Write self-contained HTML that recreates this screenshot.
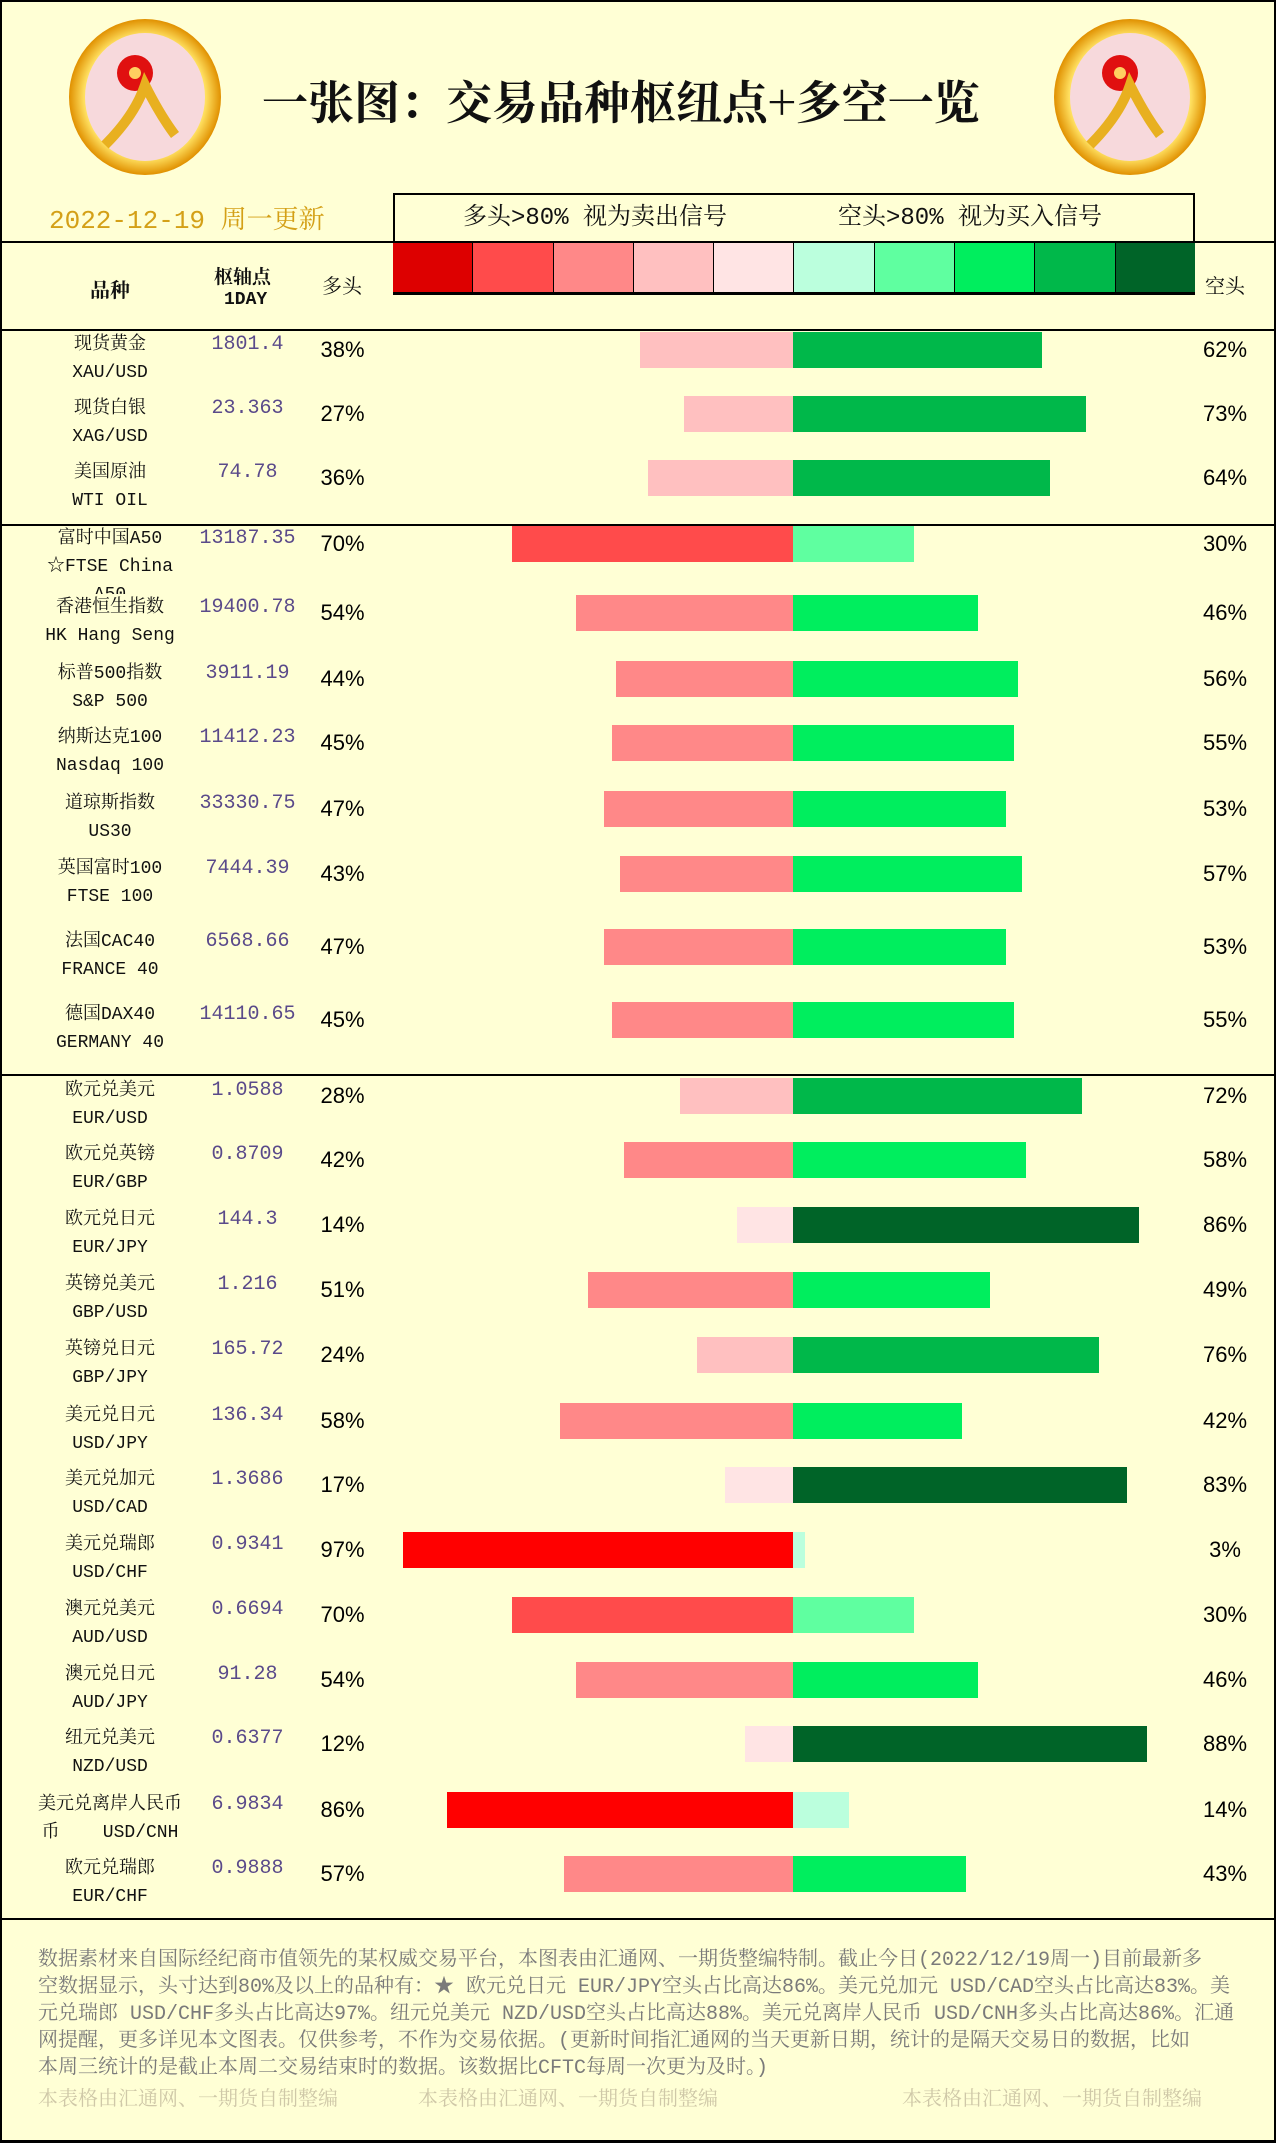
<!DOCTYPE html>
<html><head><meta charset="utf-8"><style>
*{margin:0;padding:0;box-sizing:border-box}
body{width:1276px;height:2143px;background:#ffffd5;position:relative;overflow:hidden;font-family:"Liberation Serif","Noto Serif CJK SC",serif}
.a{position:absolute}
.hl{position:absolute;left:0;width:1276px;height:2px;background:#000}
.r{position:absolute;left:0;width:1276px;height:0}
.n{position:absolute;left:10px;width:200px;text-align:center;top:-16px;font-size:18px;line-height:22px;color:#111;white-space:nowrap;font-family:"Liberation Mono","Noto Serif CJK SC",monospace}
.c{position:absolute;left:10px;width:200px;text-align:center;top:12px;font-size:18px;line-height:22px;color:#111;white-space:nowrap;font-family:"Liberation Mono","Noto Serif CJK SC",monospace}
.p{position:absolute;left:190px;width:115px;text-align:center;top:-16px;font-size:20px;line-height:22px;color:#5a4a8a;font-family:"Liberation Mono",monospace}
.l{position:absolute;left:315px;width:55px;text-align:center;top:-12px;font-size:22px;line-height:24px;font-family:"Liberation Sans",sans-serif;color:#000}
.s{position:absolute;left:1195px;width:60px;text-align:center;top:-12px;font-size:22px;line-height:24px;font-family:"Liberation Sans",sans-serif;color:#000}
.rb{position:absolute;right:483px;top:-18px;height:36px}
.gb{position:absolute;left:793px;top:-18px;height:36px}
.c1{background:#ff0000}.c2{background:#ff4b4b}.c3{background:#ff8888}.c4{background:#ffc0c0}.c5{background:#ffe4e4}
.g5{background:#bbffdd}.g4{background:#5fffa0}.g3{background:#00ee5e}.g2{background:#00b84a}.g1{background:#006428}
.ft{position:absolute;left:38px;font-size:20px;line-height:27px;color:#7a7a7a;white-space:nowrap;font-family:"Liberation Mono","Noto Serif CJK SC",monospace}
</style></head><body>
<div class="a" style="left:0;top:0;width:1276px;height:2143px;border:2px solid #000;border-bottom-width:3px"></div>

<svg class="a" style="left:65px;top:15px" width="160" height="165" viewBox="0 0 160 165">
<defs><radialGradient id="gd" cx="50%" cy="50%" r="50%"><stop offset="80%" stop-color="#ffe060"/><stop offset="100%" stop-color="#e09000"/></radialGradient></defs>
<ellipse cx="80" cy="82" rx="76" ry="78" fill="url(#gd)"/>
<ellipse cx="80" cy="82" rx="60" ry="64" fill="#f7d9dc"/>
<circle cx="70" cy="58" r="18" fill="#e01010"/><circle cx="70" cy="58" r="6" fill="#ffd060"/>
<path d="M40 130 Q70 100 80 70 Q95 100 110 120" stroke="#e8b020" stroke-width="10" fill="none"/>
</svg>
<svg class="a" style="left:1050px;top:15px" width="160" height="165" viewBox="0 0 160 165">
<ellipse cx="80" cy="82" rx="76" ry="78" fill="url(#gd)"/>
<ellipse cx="80" cy="82" rx="60" ry="64" fill="#f7d9dc"/>
<circle cx="70" cy="58" r="18" fill="#e01010"/><circle cx="70" cy="58" r="6" fill="#ffd060"/>
<path d="M40 130 Q70 100 80 70 Q95 100 110 120" stroke="#e8b020" stroke-width="10" fill="none"/>
</svg>

<div class="a" style="left:262px;top:70px;font-size:46px;line-height:60px;font-weight:bold;font-family:'Noto Serif CJK SC',serif;color:#111;white-space:nowrap">一张图：交易品种枢纽点+多空一览</div>

<div class="a" style="left:49px;top:206px;font-size:26px;line-height:30px;color:#d4a017;white-space:nowrap;font-family:'Liberation Mono','Noto Serif CJK SC',monospace">2022-12-19 周一更新</div>

<div class="a" style="left:393px;top:193px;width:802px;height:52px;border:2px solid #000;border-bottom:none"></div>
<div class="a" style="left:463px;top:204px;font-size:24px;line-height:30px;color:#111;white-space:nowrap;font-family:'Liberation Mono','Noto Serif CJK SC',monospace">多头&gt;80% 视为卖出信号</div>
<div class="a" style="left:838px;top:204px;font-size:24px;line-height:30px;color:#111;white-space:nowrap;font-family:'Liberation Mono','Noto Serif CJK SC',monospace">空头&gt;80% 视为买入信号</div>

<div class="hl" style="top:241px"></div>
<div class="a" style="left:393px;top:243px;width:802px;height:52px;display:flex;border-bottom:3px solid #000">
<div style="flex:1;background:#dd0000;border-right:1px solid #000"></div>
<div style="flex:1;background:#ff4b4b;border-right:1px solid #000"></div>
<div style="flex:1;background:#ff8888;border-right:1px solid #000"></div>
<div style="flex:1;background:#ffc0c0;border-right:1px solid #000"></div>
<div style="flex:1;background:#ffe4e4;border-right:1px solid #000"></div>
<div style="flex:1;background:#bbffdd;border-right:1px solid #000"></div>
<div style="flex:1;background:#5fffa0;border-right:1px solid #000"></div>
<div style="flex:1;background:#00ee5e;border-right:1px solid #000"></div>
<div style="flex:1;background:#00b84a;border-right:1px solid #000"></div>
<div style="flex:1;background:#006428"></div>
</div>
<div class="a" style="left:90px;top:274px;font-size:20px;font-weight:bold;color:#111">品种</div>
<div class="a" style="left:214px;top:262px;font-size:19px;font-weight:bold;color:#111">枢轴点</div>
<div class="a" style="left:224px;top:290px;font-size:18px;font-weight:bold;color:#111;font-family:'Liberation Mono',monospace">1DAY</div>
<div class="a" style="left:322px;top:270px;font-size:20px;color:#111">多头</div>
<div class="a" style="left:1205px;top:270px;font-size:20px;color:#111">空头</div>
<div class="hl" style="top:329px"></div>
<div class="hl" style="top:524px"></div>
<div class="hl" style="top:1074px"></div>
<div class="hl" style="top:1918px"></div>

<div class="r" style="top:350px"><div class="n">现货黄金</div><div class="c">XAU/USD</div><div class="p">1801.4</div><div class="l">38%</div><div class="rb c4" style="width:153px"></div><div class="gb g2" style="width:249px"></div><div class="s">62%</div></div>
<div class="r" style="top:414px"><div class="n">现货白银</div><div class="c">XAG/USD</div><div class="p">23.363</div><div class="l">27%</div><div class="rb c4" style="width:109px"></div><div class="gb g2" style="width:293px"></div><div class="s">73%</div></div>
<div class="r" style="top:478px"><div class="n">美国原油</div><div class="c">WTI OIL</div><div class="p">74.78</div><div class="l">36%</div><div class="rb c4" style="width:145px"></div><div class="gb g2" style="width:257px"></div><div class="s">64%</div></div>

<div class="r" style="top:544px"><div class="n">富时中国A50</div><div class="c">☆FTSE China</div><div class="c" style="top:40px;height:10px;overflow:hidden">A50</div><div class="p">13187.35</div><div class="l">70%</div><div class="rb c2" style="width:281px"></div><div class="gb g4" style="width:121px"></div><div class="s">30%</div></div>
<div class="r" style="top:613px"><div class="n">香港恒生指数</div><div class="c">HK Hang Seng</div><div class="p">19400.78</div><div class="l">54%</div><div class="rb c3" style="width:217px"></div><div class="gb g3" style="width:185px"></div><div class="s">46%</div></div>
<div class="r" style="top:679px"><div class="n">标普500指数</div><div class="c">S&amp;P 500</div><div class="p">3911.19</div><div class="l">44%</div><div class="rb c3" style="width:177px"></div><div class="gb g3" style="width:225px"></div><div class="s">56%</div></div>
<div class="r" style="top:743px"><div class="n">纳斯达克100</div><div class="c">Nasdaq 100</div><div class="p">11412.23</div><div class="l">45%</div><div class="rb c3" style="width:181px"></div><div class="gb g3" style="width:221px"></div><div class="s">55%</div></div>
<div class="r" style="top:809px"><div class="n">道琼斯指数</div><div class="c">US30</div><div class="p">33330.75</div><div class="l">47%</div><div class="rb c3" style="width:189px"></div><div class="gb g3" style="width:213px"></div><div class="s">53%</div></div>
<div class="r" style="top:874px"><div class="n">英国富时100</div><div class="c">FTSE 100</div><div class="p">7444.39</div><div class="l">43%</div><div class="rb c3" style="width:173px"></div><div class="gb g3" style="width:229px"></div><div class="s">57%</div></div>
<div class="r" style="top:947px"><div class="n">法国CAC40</div><div class="c">FRANCE 40</div><div class="p">6568.66</div><div class="l">47%</div><div class="rb c3" style="width:189px"></div><div class="gb g3" style="width:213px"></div><div class="s">53%</div></div>
<div class="r" style="top:1020px"><div class="n">德国DAX40</div><div class="c">GERMANY 40</div><div class="p">14110.65</div><div class="l">45%</div><div class="rb c3" style="width:181px"></div><div class="gb g3" style="width:221px"></div><div class="s">55%</div></div>

<div class="r" style="top:1096px"><div class="n">欧元兑美元</div><div class="c">EUR/USD</div><div class="p">1.0588</div><div class="l">28%</div><div class="rb c4" style="width:113px"></div><div class="gb g2" style="width:289px"></div><div class="s">72%</div></div>
<div class="r" style="top:1160px"><div class="n">欧元兑英镑</div><div class="c">EUR/GBP</div><div class="p">0.8709</div><div class="l">42%</div><div class="rb c3" style="width:169px"></div><div class="gb g3" style="width:233px"></div><div class="s">58%</div></div>
<div class="r" style="top:1225px"><div class="n">欧元兑日元</div><div class="c">EUR/JPY</div><div class="p">144.3</div><div class="l">14%</div><div class="rb c5" style="width:56px"></div><div class="gb g1" style="width:346px"></div><div class="s">86%</div></div>
<div class="r" style="top:1290px"><div class="n">英镑兑美元</div><div class="c">GBP/USD</div><div class="p">1.216</div><div class="l">51%</div><div class="rb c3" style="width:205px"></div><div class="gb g3" style="width:197px"></div><div class="s">49%</div></div>
<div class="r" style="top:1355px"><div class="n">英镑兑日元</div><div class="c">GBP/JPY</div><div class="p">165.72</div><div class="l">24%</div><div class="rb c4" style="width:96px"></div><div class="gb g2" style="width:306px"></div><div class="s">76%</div></div>
<div class="r" style="top:1421px"><div class="n">美元兑日元</div><div class="c">USD/JPY</div><div class="p">136.34</div><div class="l">58%</div><div class="rb c3" style="width:233px"></div><div class="gb g3" style="width:169px"></div><div class="s">42%</div></div>
<div class="r" style="top:1485px"><div class="n">美元兑加元</div><div class="c">USD/CAD</div><div class="p">1.3686</div><div class="l">17%</div><div class="rb c5" style="width:68px"></div><div class="gb g1" style="width:334px"></div><div class="s">83%</div></div>
<div class="r" style="top:1550px"><div class="n">美元兑瑞郎</div><div class="c">USD/CHF</div><div class="p">0.9341</div><div class="l">97%</div><div class="rb c1" style="width:390px"></div><div class="gb g5" style="width:12px"></div><div class="s">3%</div></div>
<div class="r" style="top:1615px"><div class="n">澳元兑美元</div><div class="c">AUD/USD</div><div class="p">0.6694</div><div class="l">70%</div><div class="rb c2" style="width:281px"></div><div class="gb g4" style="width:121px"></div><div class="s">30%</div></div>
<div class="r" style="top:1680px"><div class="n">澳元兑日元</div><div class="c">AUD/JPY</div><div class="p">91.28</div><div class="l">54%</div><div class="rb c3" style="width:217px"></div><div class="gb g3" style="width:185px"></div><div class="s">46%</div></div>
<div class="r" style="top:1744px"><div class="n">纽元兑美元</div><div class="c">NZD/USD</div><div class="p">0.6377</div><div class="l">12%</div><div class="rb c5" style="width:48px"></div><div class="gb g1" style="width:354px"></div><div class="s">88%</div></div>
<div class="r" style="top:1810px"><div class="n">美元兑离岸人民币</div><div class="c">币&nbsp;&nbsp;&nbsp;&nbsp;USD/CNH</div><div class="p">6.9834</div><div class="l">86%</div><div class="rb c1" style="width:346px"></div><div class="gb g5" style="width:56px"></div><div class="s">14%</div></div>
<div class="r" style="top:1874px"><div class="n">欧元兑瑞郎</div><div class="c">EUR/CHF</div><div class="p">0.9888</div><div class="l">57%</div><div class="rb c3" style="width:229px"></div><div class="gb g3" style="width:173px"></div><div class="s">43%</div></div>

<div class="ft" style="top:1947px">数据素材来自国际经纪商市值领先的某权威交易平台，本图表由汇通网、一期货整编特制。截止今日(2022/12/19周一)目前最新多</div>
<div class="ft" style="top:1974px">空数据显示，头寸达到80%及以上的品种有：★ 欧元兑日元 EUR/JPY空头占比高达86%。美元兑加元 USD/CAD空头占比高达83%。美</div>
<div class="ft" style="top:2001px">元兑瑞郎 USD/CHF多头占比高达97%。纽元兑美元 NZD/USD空头占比高达88%。美元兑离岸人民币 USD/CNH多头占比高达86%。汇通</div>
<div class="ft" style="top:2028px">网提醒，更多详见本文图表。仅供参考，不作为交易依据。(更新时间指汇通网的当天更新日期，统计的是隔天交易日的数据，比如</div>
<div class="ft" style="top:2055px">本周三统计的是截止本周二交易结束时的数据。该数据比CFTC每周一次更为及时。)</div>
<div class="ft" style="top:2087px;color:#cfc8a8">本表格由汇通网、一期货自制整编</div>
<div class="ft" style="top:2087px;left:418px;color:#cfc8a8">本表格由汇通网、一期货自制整编</div>
<div class="ft" style="top:2087px;left:902px;color:#cfc8a8">本表格由汇通网、一期货自制整编</div>
</body></html>
